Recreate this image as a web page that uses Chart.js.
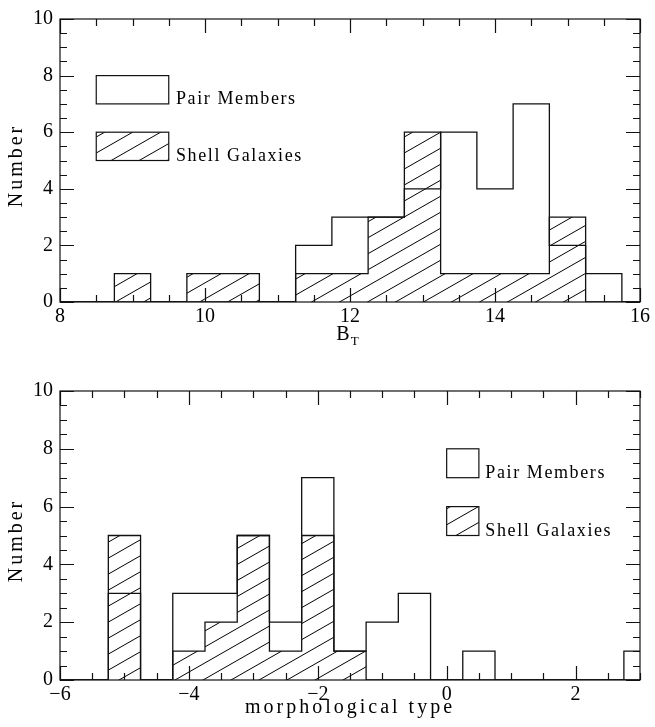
<!DOCTYPE html>
<html>
<head>
<meta charset="utf-8">
<script src="https://cdn.jsdelivr.net/npm/chart.js@4.4.0/dist/chart.umd.min.js"></script>
<style>
    html, body { margin: 0; padding: 0; background: #fff; }
    #wrap { position: relative; width: 655px; height: 727px; }
    .panel { position: absolute; left: 0; width: 655px; }
    #top { top: 0; height: 364px; }
    #bottom { top: 364px; height: 363px; }
</style>
</head>
<body>
<div id="wrap">
    <div class="panel" id="top"><canvas id="chartBT" width="655" height="364"></canvas></div>
    <div class="panel" id="bottom"><canvas id="chartMorph" width="655" height="363"></canvas></div>
</div>
<script>
// Top panel: B_T histogram (bins 0.5 wide, given by centre)
const btCenters = [8, 8.5, 9, 9.5, 10, 10.5, 11, 11.5, 12, 12.5, 13, 13.5, 14, 14.5, 15, 15.5, 16];
const btShell   = [0, 0,   1, 0,   1,  1,    0,  1,    1,  3,    6,  1,    1,  1,    3,  0,    0];
const btPair    = [0, 0,   0, 0,   0,  0,    0,  2,    3,  3,    4,  6,    4,  7,    2,  1,    0];
const btTicks = [8, 10, 12, 14, 16];

// Bottom panel: morphological type histogram
const morphCenters = [-6, -5.5, -5, -4.5, -4, -3.5, -3, -2.5, -2, -1.5, -1, -0.5, 0, 0.5, 1, 1.5, 2, 2.5, 3];
const morphShell   = [0,  0,    5,  0,    1,  2,    5,  1,    5,  1,    0,  0,    0, 0,   0, 0,   0, 0,   0];
const morphPair    = [0,  0,    3,  0,    3,  3,    5,  2,    7,  1,    2,  3,    0, 1,   0, 0,   0, 0,   1];
const morphTicks = [-6, -4, -2, 0, 2];

const countTicks = [0, 2, 4, 6, 8, 10];
const binHalf = 0.25;

const serif = "'Liberation Serif', 'Times New Roman', serif";

// first point opens at the left edge, then each bin's count runs up to its right edge
function stepPoints(centers, counts) {
    const pts = [{ x: centers[0] - binHalf, y: 0 }];
    centers.forEach((c, i) => pts.push({ x: c + binHalf, y: counts[i] }));
    pts.push({ x: centers[centers.length - 1] + binHalf, y: 0 });
    return pts;
}

function makeHatch(ctx) {
    const w = 28, h = 16;
    const tile = document.createElement('canvas');
    tile.width = w;
    tile.height = h;
    const g = tile.getContext('2d');
    g.strokeStyle = '#000';
    g.lineWidth = 1;
    g.beginPath();
    [-h, 0, h].forEach(off => {
        g.moveTo(0, h + off);
        g.lineTo(w, off);
    });
    g.stroke();
    return ctx.createPattern(tile, 'repeat');
}

function minus(v) {
    return v < 0 ? '\u2212' + Math.abs(v) : String(v);
}

// frame with inward ticks, axis titles and the hand-placed legend boxes
const decorPlugin = {
    id: 'decor',
    afterDatasetsDraw(chart, args, opts) {
        const { ctx, chartArea: a, scales: { x, y } } = chart;
        ctx.save();
        ctx.strokeStyle = '#111';
        ctx.lineWidth = 1.2;
        ctx.strokeRect(a.left, a.top, a.right - a.left, a.bottom - a.top);

        ctx.beginPath();
        const isMajor = (v, step) => Math.abs(v / step - Math.round(v / step)) < 1e-6;
        for (let v = x.min; v <= x.max + 1e-9; v += 0.5) {
            const px = Math.round(x.getPixelForValue(v)) + 0.5;
            const len = isMajor(v, 2) ? 14 : 7;
            ctx.moveTo(px, a.bottom); ctx.lineTo(px, a.bottom - len);
            ctx.moveTo(px, a.top); ctx.lineTo(px, a.top + len);
        }
        for (let v = y.min; v <= y.max + 1e-9; v += 0.5) {
            const py = Math.round(y.getPixelForValue(v)) + 0.5;
            const len = isMajor(v, 2) ? 14 : 7;
            ctx.moveTo(a.left, py); ctx.lineTo(a.left + len, py);
            ctx.moveTo(a.right, py); ctx.lineTo(a.right - len, py);
        }
        ctx.stroke();

        // legend
        ctx.lineWidth = 1.2;
        opts.legend.forEach(item => {
            const x0 = x.getPixelForValue(item.x0), x1 = x.getPixelForValue(item.x1);
            const y0 = y.getPixelForValue(item.y0), y1 = y.getPixelForValue(item.y1);
            if (item.hatch) {
                ctx.fillStyle = opts.pattern;
                ctx.fillRect(x0, y1, x1 - x0, y0 - y1);
            }
            ctx.strokeRect(x0, y1, x1 - x0, y0 - y1);
            ctx.fillStyle = '#000';
            ctx.font = '18px ' + serif;
            ctx.letterSpacing = '1.6px';
            ctx.textAlign = 'left';
            ctx.textBaseline = 'alphabetic';
            ctx.fillText(item.label, x.getPixelForValue(item.textX), y0);
        });

        // y title
        ctx.fillStyle = '#000';
        ctx.font = '20px ' + serif;
        ctx.letterSpacing = '3px';
        ctx.save();
        ctx.translate(22, (a.top + a.bottom) / 2 + 5);
        ctx.rotate(-Math.PI / 2);
        ctx.textAlign = 'center';
        ctx.fillText('Number', 0, 0);
        ctx.restore();

        // x title, with optional subscript
        const cx = (a.left + a.right) / 2;
        ctx.textAlign = 'left';
        ctx.font = '20px ' + serif;
        const mainW = ctx.measureText(opts.xTitle).width;
        let subW = 0;
        if (opts.xSub) {
            ctx.font = '13px ' + serif;
            subW = ctx.measureText(opts.xSub).width;
            ctx.font = '20px ' + serif;
        }
        const startX = cx - (mainW + subW) / 2;
        ctx.fillText(opts.xTitle, startX, opts.xTitleY);
        if (opts.xSub) {
            ctx.font = '13px ' + serif;
            ctx.letterSpacing = '0px';
            ctx.fillText(opts.xSub, startX + mainW - 2, opts.xTitleY + 5);
        }
        ctx.letterSpacing = '0px';
        ctx.restore();
    }
};

function buildChart(canvasId, centers, shell, pair, xMin, xMax, xTicks, decor, layout) {
    const canvas = document.getElementById(canvasId);
    const ctx = canvas.getContext('2d');
    const pattern = makeHatch(ctx);
    decor.pattern = pattern;
    return new Chart(ctx, {
        type: 'line',
        data: {
            datasets: [
                {
                    label: 'Pair Members',
                    data: stepPoints(centers, pair),
                    stepped: 'after',
                    fill: false,
                    borderColor: '#111',
                    borderWidth: 1.3,
                    pointRadius: 0,
                },
                {
                    label: 'Shell Galaxies',
                    data: stepPoints(centers, shell),
                    stepped: 'after',
                    fill: 'origin',
                    backgroundColor: pattern,
                    borderColor: '#111',
                    borderWidth: 1.3,
                    pointRadius: 0,
                },
            ]
        },
        options: {
            responsive: false,
            animation: false,
            layout: { padding: { top: layout.top, right: 15, left: 0, bottom: 0 } },
            plugins: {
                legend: { display: false },
                tooltip: { enabled: false },
                decor: decor,
            },
            scales: {
                x: {
                    type: 'linear',
                    min: xMin,
                    max: xMax,
                    grid: { display: false, drawTicks: false },
                    border: { display: false },
                    afterBuildTicks: axis => { axis.ticks = xTicks.map(v => ({ value: v })); },
                    afterFit: axis => { axis.height = layout.xHeight; },
                    ticks: {
                        padding: 3,
                        maxRotation: 0,
                        autoSkip: false,
                        color: '#000',
                        font: { family: serif, size: 20 },
                        callback: v => minus(v),
                    },
                },
                y: {
                    min: 0,
                    max: 10,
                    grid: { display: false, drawTicks: false },
                    border: { display: false },
                    afterBuildTicks: axis => { axis.ticks = countTicks.map(v => ({ value: v })); },
                    afterFit: axis => { axis.width = 60; },
                    ticks: {
                        padding: 7,
                        color: '#000',
                        font: { family: serif, size: 20 },
                        callback: v => String(v),
                    },
                },
            },
        },
        plugins: [decorPlugin],
    });
}

buildChart('chartBT', btCenters, btShell, btPair, 8, 16, btTicks, {
    xTitle: 'B',
    xSub: 'T',
    xTitleY: 340,
    legend: [
        { x0: 8.5, x1: 9.5, y0: 7, y1: 8, textX: 9.6, label: 'Pair Members', hatch: false },
        { x0: 8.5, x1: 9.5, y0: 5, y1: 6, textX: 9.6, label: 'Shell Galaxies', hatch: true },
    ],
}, { top: 13, xHeight: 62 });

buildChart('chartMorph', morphCenters, morphShell, morphPair, -6, 3, morphTicks, {
    xTitle: 'morphological type',
    xSub: '',
    xTitleY: 349,
    legend: [
        { x0: 0, x1: 0.5, y0: 7, y1: 8, textX: 0.6, label: 'Pair Members', hatch: false },
        { x0: 0, x1: 0.5, y0: 5, y1: 6, textX: 0.6, label: 'Shell Galaxies', hatch: true },
    ],
}, { top: 27, xHeight: 47 });
</script>
</body>
</html>
